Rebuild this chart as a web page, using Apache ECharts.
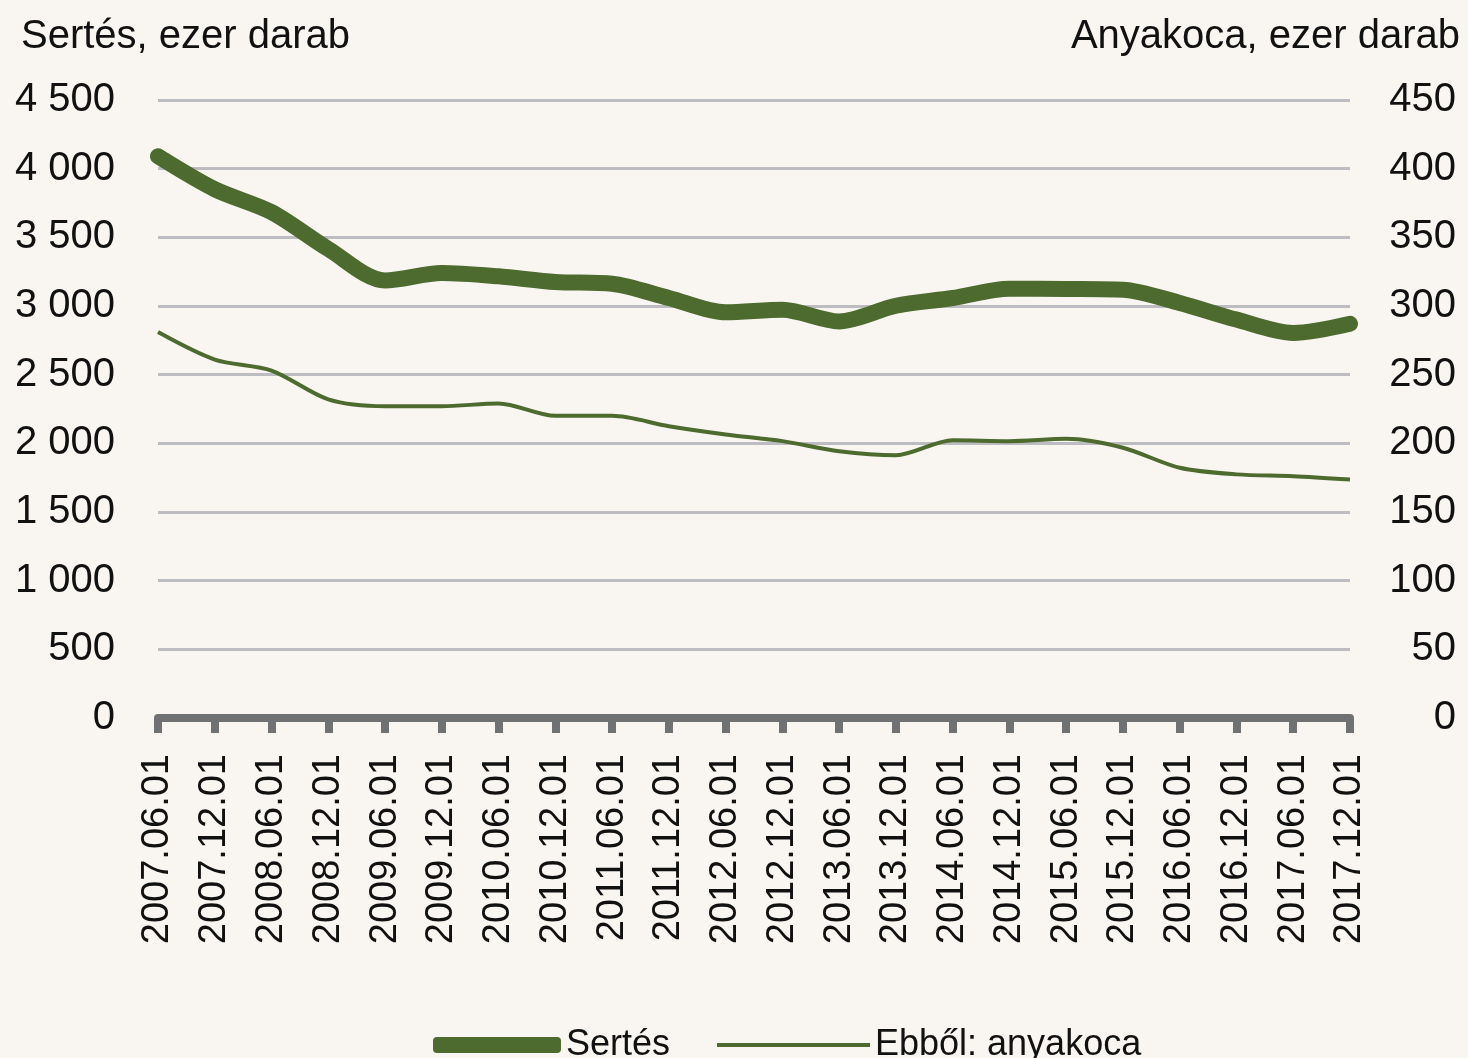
<!DOCTYPE html>
<html>
<head>
<meta charset="utf-8">
<script src="https://cdn.jsdelivr.net/npm/echarts@6/dist/echarts.min.js"></script>
<style>
html,body{margin:0;padding:0;background:#f9f6f2;}
#chart{width:1468px;height:1058px;}
</style>
</head>
<body>
<div id="chart"></div>
<script>
const categories = ['2007.06.01','2007.12.01','2008.06.01','2008.12.01','2009.06.01','2009.12.01','2010.06.01','2010.12.01','2011.06.01','2011.12.01','2012.06.01','2012.12.01','2013.06.01','2013.12.01','2014.06.01','2014.12.01','2015.06.01','2015.12.01','2016.06.01','2016.12.01','2017.06.01','2017.12.01'];
const sertes = [4090,3850,3683,3415,3186,3240,3216,3175,3162,3058,2954,2973,2888,3002,3058,3126,3124,3119,3022,2901,2804,2871];
const anyakoca = [281,261,253,232,227,227,229,220,220,212.5,206.5,201.6,194.3,191.4,202.3,201.6,203.3,196.8,182.2,177.4,176.1,173.7];
const leftTicks = {min:0, max:4500, interval:500};
const rightTicks = {min:0, max:450, interval:50};
const leftName = 'Sertés, ezer darab';
const rightName = 'Anyakoca, ezer darab';
const seriesNames = ['Sertés','Ebből: anyakoca'];

const FONT = "'Liberation Sans Narrow','Arial Narrow','Liberation Sans',Arial,sans-serif";
const GREEN = '#4d6a2f';
const TXT = '#111111';

const chart = echarts.init(document.getElementById('chart'));
function fmt(v){ return String(v).replace(/\B(?=(\d{3})+(?!\d))/g,' '); }

chart.setOption({
  backgroundColor:'#f9f6f2',
  animation:false,
  title:[
    {text:leftName, left:16, top:12, textStyle:{fontFamily:FONT,fontSize:40,fontWeight:'normal',color:TXT}},
    {text:rightName, right:3, top:12, textStyle:{fontFamily:FONT,fontSize:40,fontWeight:'normal',color:TXT}}
  ],
  legend:[
    {data:[seriesNames[0]], left:428, top:1022, itemWidth:128, itemHeight:16, icon:'roundRect',
     itemStyle:{color:GREEN}, textStyle:{fontFamily:FONT,fontSize:36,color:TXT}},
    {data:[seriesNames[1]], left:712, top:1022, itemWidth:153, itemHeight:4, icon:'rect',
     itemStyle:{color:GREEN}, textStyle:{fontFamily:FONT,fontSize:36,color:TXT}}
  ],
  grid:{left:158, right:118, top:100, bottom:340, containLabel:false, outerBoundsMode:'none'},
  xAxis:{
    type:'category', data:categories, boundaryGap:false,
    axisLine:{lineStyle:{color:'#707173', width:8}},
    axisTick:{show:true, interval:0, length:15, lineStyle:{color:'#707173', width:8}},
    axisLabel:{interval:0, rotate:90, margin:36, fontFamily:FONT, fontSize:38, color:TXT}
  },
  yAxis:[
    {type:'value', min:leftTicks.min, max:leftTicks.max, interval:leftTicks.interval,
     axisLine:{show:false}, axisTick:{show:false},
     splitLine:{lineStyle:{color:'#bdbdc1', width:3}},
     axisLabel:{margin:43, fontFamily:FONT, fontSize:40, color:TXT, formatter:fmt}},
    {type:'value', min:rightTicks.min, max:rightTicks.max, interval:rightTicks.interval,
     axisLine:{show:false}, axisTick:{show:false}, splitLine:{show:false},
     axisLabel:{margin:106, align:'right', fontFamily:FONT, fontSize:40, color:TXT}}
  ],
  series:[
    {name:seriesNames[0], type:'line', data:sertes, yAxisIndex:0, smooth:0.3, showSymbol:false,
     lineStyle:{color:GREEN, width:16, cap:'round', join:'round'}, itemStyle:{color:GREEN}, z:3},
    {name:seriesNames[1], type:'line', data:anyakoca, yAxisIndex:1, smooth:0.3, showSymbol:false,
     lineStyle:{color:GREEN, width:4}, itemStyle:{color:GREEN}, z:3}
  ]
});
</script>
</body>
</html>
